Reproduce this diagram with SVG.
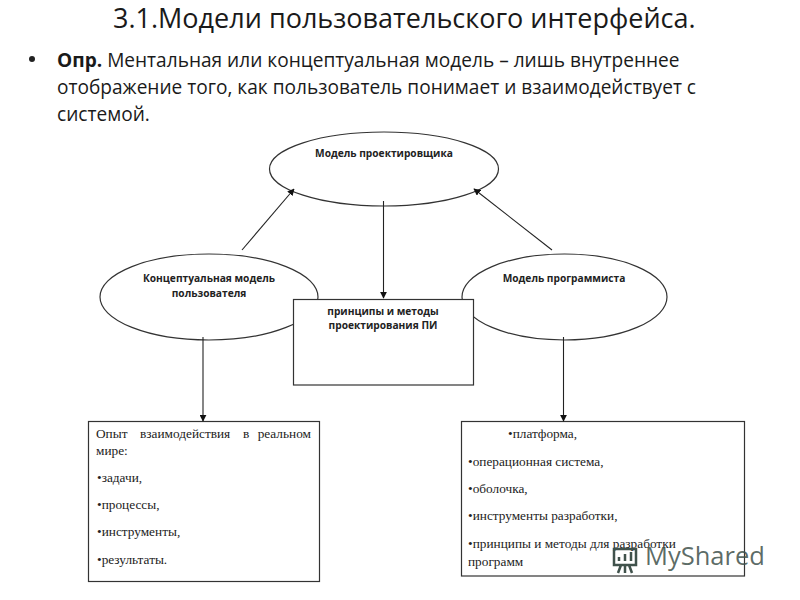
<svg xmlns="http://www.w3.org/2000/svg" width="800" height="600" viewBox="0 0 800 600">
<style>
.head{font-family:"Open Sans","Liberation Sans",sans-serif;fill:#1a1a1a}
.lab{font-family:"Open Sans","Liberation Sans",sans-serif;font-size:10.2px;font-weight:700;fill:#222;text-anchor:middle}
.ser{font-family:"Liberation Serif",serif;font-size:13.3px;fill:#222}
.sh{fill:#fff;stroke:#333;stroke-width:1.2}
.c{stroke:#222;stroke-width:1.1;fill:none;marker-end:url(#a)}
</style>
<defs><marker id="a" viewBox="0 0 10 10" refX="9" refY="5" markerWidth="7" markerHeight="7" markerUnits="userSpaceOnUse" orient="auto"><path d="M0 0L10 5L0 10Z" fill="#111"/></marker></defs>
<rect width="800" height="600" fill="#fff"/>
<g id="title">
<text class="head" x="113" y="28" font-size="27">3.1.Модели пользовательского интерфейса.</text>
<circle cx="32" cy="59" r="3" fill="#222"/>
<text class="head" x="57" y="67" font-size="19.100"><tspan font-weight="700">Опр.</tspan> Ментальная или концептуальная модель – лишь внутреннее</text>
<text class="head" x="57" y="94" font-size="19.100">отображение того, как пользователь понимает и взаимодействует с</text>
<text class="head" x="57" y="121" font-size="19.100">системой.</text>
</g>
<g id="node-designer"><ellipse class="sh" cx="384" cy="169" rx="114.500" ry="37"/><text class="lab" x="384" y="157">Модель проектировщика</text></g>
<g id="node-user"><ellipse class="sh" cx="209" cy="297" rx="109" ry="43"/><text class="lab" x="209" y="282">Концептуальная модель</text><text class="lab" x="209" y="297">пользователя</text></g>
<g id="node-programmer"><ellipse class="sh" cx="564.500" cy="297" rx="102.500" ry="43"/><text class="lab" x="564" y="282">Модель программиста</text></g>
<g id="node-principles"><rect class="sh" x="293.500" y="299.500" width="180" height="85.500"/><text class="lab" x="383" y="315">принципы и методы</text><text class="lab" x="383" y="329">проектирования ПИ</text></g>
<g id="node-experience"><rect class="sh" x="88.500" y="421.500" width="231" height="160"/>
<text class="ser" x="96" y="438">Опыт</text><text class="ser" x="140" y="438">взаимодействия</text><text class="ser" x="243" y="438">в</text><text class="ser" x="311" y="438" text-anchor="end">реальном</text>
<text class="ser" x="96" y="455">мире:</text>
<text class="ser" x="97" y="482">•задачи,</text>
<text class="ser" x="97" y="509">•процессы,</text>
<text class="ser" x="97" y="536">•инструменты,</text>
<text class="ser" x="97" y="564">•результаты.</text></g>
<g id="node-platform"><rect class="sh" x="461.500" y="421.500" width="283" height="154.500"/>
<text class="ser" x="508" y="438">•платформа,</text>
<text class="ser" x="468" y="466">•операционная система,</text>
<text class="ser" x="468" y="493">•оболочка,</text>
<text class="ser" x="468" y="520">•инструменты разработки,</text>
<text class="ser" x="468" y="548">•принципы и методы для разработки</text>
<text class="ser" x="468" y="566">программ</text></g>
<g id="connectors">
<line class="c" x1="242" y1="250" x2="294" y2="189"/>
<line class="c" x1="552" y1="250" x2="474" y2="189"/>
<line class="c" x1="383.500" y1="201" x2="383.500" y2="298"/>
<line class="c" x1="203" y1="337" x2="203" y2="421"/>
<line class="c" x1="563.500" y1="337" x2="563.500" y2="421"/>
</g>
<g id="watermark">
<path d="M614 549h22v16h-22zM625 565v8M618 573l3-8M632 573l-3-8" fill="none" stroke="#40524c" stroke-width="2.500"/>
<path d="M619 561v-4M625 561v-7M631 561v-9" stroke="#40524c" stroke-width="2.500"/>
<text x="645" y="565" font-family="'Open Sans','Liberation Sans',sans-serif" font-size="25.500" fill="#3f514b" fill-opacity=".85">MyShared</text>
</g>
</svg>
